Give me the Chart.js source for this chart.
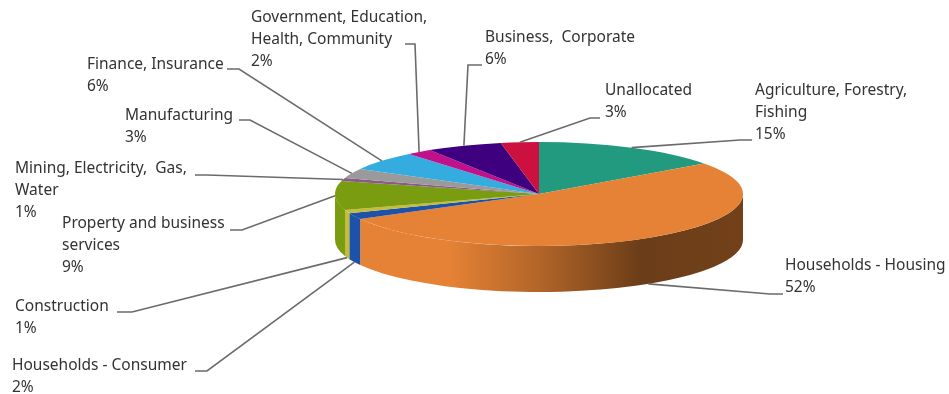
<!DOCTYPE html>
<html>
<head>
<meta charset="utf-8">
<title>Lending by sector</title>
<script src="https://cdn.jsdelivr.net/npm/chart.js@4/dist/chart.umd.min.js"></script>
<style>
  html, body { margin: 0; padding: 0; background: #fff; }
  canvas { display: block; }
</style>
</head>
<body>
<canvas id="sectorChart" width="949" height="394"></canvas>
<script>
// Slices run clockwise from twelve o'clock
const categories = [
  ['Agriculture, Forestry,', 'Fishing'],
  ['Households - Housing'],
  ['Households - Consumer'],
  ['Construction'],
  ['Property and business', 'services'],
  ['Mining, Electricity,  Gas,', 'Water'],
  ['Manufacturing'],
  ['Finance, Insurance'],
  ['Government, Education,', 'Health, Community'],
  ['Business,  Corporate'],
  ['Unallocated']
];
const shares = [15, 52, 2, 1, 9, 1, 3, 6, 2, 6, 3];
const sliceColors = ['#219a7f', '#e58235', '#1d52a8', '#c4bd3c', '#7a9c10', '#8a5a8a',
  '#9a9a9a', '#35acdf', '#c0108a', '#3f0080', '#cc1040'];

// Where each label sits: text left edge, first baseline
const labelSpots = [[755, 95], [785, 270], [12, 370], [15, 311], [62, 228], [15, 173],
  [125, 120], [87, 69], [251, 22], [485, 42], [605, 95]];
// Leader line: stub end, elbow. The far end comes from the slice itself.
const leaderStubs = [[752, 140, 740, 140], [783, 294, 770, 294], [195, 371, 207, 371],
  [117, 312, 132, 312], [230, 230, 242, 230], [195, 175, 207, 175], [239, 120, 250, 120],
  [227, 69, 239, 69], [405, 44, 415, 44], [482, 65, 468, 65], [600, 118, 590, 118]];
// Slices whose leader lands on the bottom rim rather than the top one
const bottomRim = [1, 2, 3];

const RX = 204, RY = 52, DEPTH = 46;
const LINE_HEIGHT = 22;

function shade(hex, k) {
  const n = parseInt(hex.slice(1), 16);
  return `rgb(${((n >> 16) & 255) * k | 0},${((n >> 8) & 255) * k | 0},${(n & 255) * k | 0})`;
}

const tiltedPie = {
  id: 'tiltedPie',
  beforeDatasetsDraw(chart) {
    const { ctx } = chart;
    const arcs = chart.getDatasetMeta(0).data;
    const cx = arcs[0].x, cy = arcs[0].y, r = arcs[0].outerRadius;

    // side wall, only the part facing the viewer
    arcs.forEach((arc, i) => {
      const a0 = Math.max(arc.startAngle, 0);
      const a1 = Math.min(arc.endAngle, Math.PI);
      if (a1 <= a0) return;
      const g = ctx.createLinearGradient(cx - RX, 0, cx + RX, 0);
      const c = sliceColors[i];
      g.addColorStop(0, c);
      g.addColorStop(0.28, c);
      g.addColorStop(0.5, shade(c, 0.78));
      g.addColorStop(0.75, shade(c, 0.47));
      g.addColorStop(1, shade(c, 0.5));
      ctx.beginPath();
      ctx.ellipse(cx, cy, RX, RY, 0, a0, a1);
      ctx.ellipse(cx, cy + DEPTH, RX, RY, 0, a1, a0, true);
      ctx.closePath();
      ctx.fillStyle = g;
      ctx.fill();
    });

    // squash the library's round pie into the top face
    ctx.save();
    ctx.translate(cx, cy);
    ctx.scale(RX / r, RY / r);
    ctx.translate(-cx, -cy);
  },
  afterDatasetsDraw(chart) {
    const { ctx } = chart;
    ctx.restore();
    const arcs = chart.getDatasetMeta(0).data;

    ctx.strokeStyle = '#6b6b6b';
    ctx.lineWidth = 1.6;
    arcs.forEach((arc, i) => {
      const mid = (arc.startAngle + arc.endAngle) / 2;
      const ax = arc.x + RX * Math.cos(mid);
      const ay = arc.y + RY * Math.sin(mid) + (bottomRim.includes(i) ? DEPTH : 0);
      const s = leaderStubs[i];
      ctx.beginPath();
      ctx.moveTo(s[0], s[1]);
      ctx.lineTo(s[2], s[3]);
      ctx.lineTo(ax, ay);
      ctx.stroke();
    });

    ctx.fillStyle = '#333';
    ctx.font = '15.5px "Noto Sans"';
    ctx.textBaseline = 'alphabetic';
    categories.forEach((lines, i) => {
      const [x, y] = labelSpots[i];
      lines.forEach((line, k) => ctx.fillText(line, x, y + k * LINE_HEIGHT));
      ctx.fillText(shares[i] + '%', x, y + lines.length * LINE_HEIGHT);
    });
  }
};

new Chart(document.getElementById('sectorChart'), {
  type: 'pie',
  data: {
    labels: categories.map(l => l.join(' ')),
    datasets: [{ data: shares, backgroundColor: sliceColors, borderWidth: 0 }]
  },
  options: {
    responsive: false,
    animation: false,
    layout: { padding: { left: 129, bottom: 6 } },
    plugins: { legend: { display: false }, tooltip: { enabled: false } }
  },
  plugins: [tiltedPie]
});
</script>
</body>
</html>
